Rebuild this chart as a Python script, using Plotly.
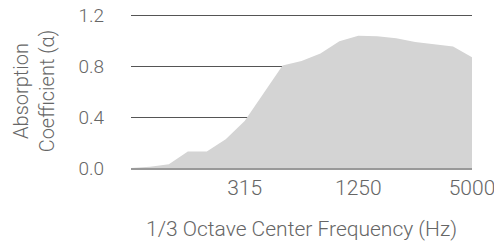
import plotly.graph_objects as go

bands = ["80", "100", "125", "160", "200", "250", "315", "400", "500", "630",
         "800", "1000", "1250", "1600", "2000", "2500", "3150", "4000", "5000"]
absorption = [0.0, 0.01, 0.03, 0.13, 0.13, 0.225, 0.37, 0.59, 0.805, 0.84,
              0.90, 0.995, 1.04, 1.035, 1.02, 0.99, 0.975, 0.955, 0.87]
x_ticks = ["315", "1250", "5000"]
y_ticks = [0.0, 0.4, 0.8, 1.2]

font_family = "Roboto, Lato, Liberation Sans, Arial, sans-serif"
text_color = "#666666"

fig = go.Figure(go.Scatter(
    x=bands, y=absorption, mode="lines", fill="tozeroy",
    fillcolor="#d4d4d4", line=dict(width=0, color="#d4d4d4"),
    hoverinfo="skip",
))

fig.update_layout(
    width=494, height=244,
    margin=dict(l=131, r=22, t=14, b=76),
    paper_bgcolor="white", plot_bgcolor="white",
    showlegend=False,
    font=dict(family=font_family, color=text_color, size=18, weight=300),
)
fig.update_xaxes(
    type="category", range=[0, 18], automargin=False,
    tickmode="array", tickvals=x_ticks, ticktext=x_ticks,
    showgrid=False, zeroline=False, ticks="",
    showline=True, linecolor="#999999", linewidth=1.5, layer="above traces",
    tickfont=dict(size=21, color=text_color, weight=300),
    title=dict(text="1/3 Octave Center Frequency (Hz)",
               font=dict(size=21, color=text_color, weight=300), standoff=22),
)
fig.update_yaxes(
    range=[0, 1.21], automargin=False, tickmode="array", tickvals=y_ticks,
    ticktext=[f"{v:.1f}" for v in y_ticks],
    showgrid=True, gridcolor="#555555", gridwidth=1,
    zeroline=False, showline=False, ticks="", ticklabelstandoff=26,
    tickfont=dict(size=19, color=text_color, weight=300),
    title=dict(text="Absorption<br>Coefficient (α)",
               font=dict(size=20, color=text_color, weight=300), standoff=18),
)

fig.write_html("out.html", config={"displayModeBar": False},
               post_script="document.body.style.margin='0';")
